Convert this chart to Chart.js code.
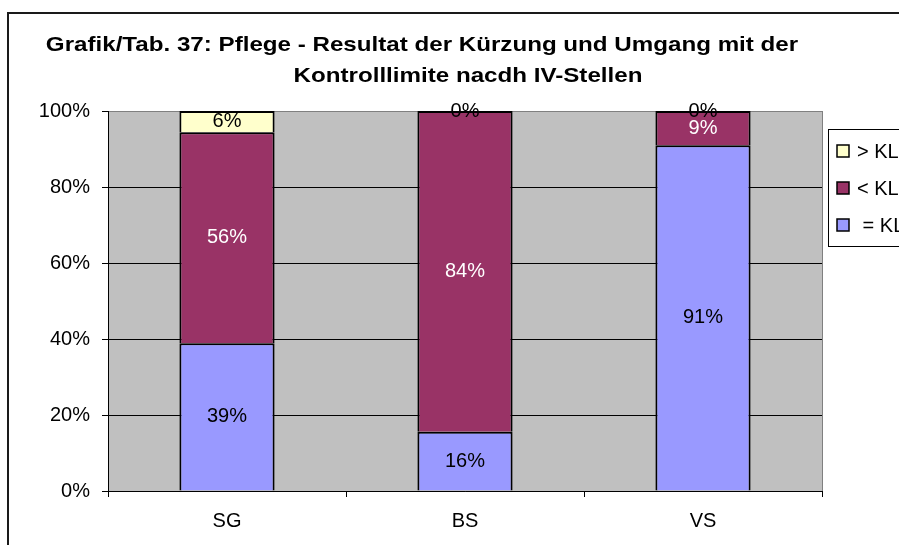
<!DOCTYPE html>
<html lang="de">
<head>
<meta charset="utf-8">
<title>Pflege - Resultat der Kürzung</title>
<script src="https://cdn.jsdelivr.net/npm/chart.js@4/dist/chart.umd.min.js"></script>
<style>
    html, body { margin: 0; padding: 0; background: #fff; overflow: hidden; }
    canvas { display: block; }
</style>
</head>
<body>
<canvas id="kuerzungChart" width="899" height="545"></canvas>
<script>
// IV-Stellen
const stellen = ['SG', 'BS', 'VS'];

// Anteile in Prozent je Stelle
const gleichKL = [38.9, 15.6, 91];
const unterKL = [55.5, 84.4, 9];
const ueberKL = [5.6, 0, 0];

const yTicks = [0, 20, 40, 60, 80, 100];

const titelZeilen = [
    'Grafik/Tab. 37: Pflege - Resultat der Kürzung und Umgang mit der',
    'Kontrolllimite nacdh IV-Stellen'
];

const FONT = "'Liberation Sans', Arial, Helvetica, sans-serif";

Chart.defaults.font.family = FONT;
Chart.defaults.font.size = 20;
Chart.defaults.color = '#000';

/**
 * Grey plot area and outer frame
 */
const plotBackground = {
    id: 'plotBackground',
    beforeDraw(chart) {
        const { ctx, chartArea: a } = chart;
        ctx.save();
        ctx.strokeStyle = '#1a1a1a';
        ctx.lineWidth = 2;
        ctx.strokeRect(8, 13, chart.width + 50, chart.height + 50);
        ctx.fillStyle = '#c0c0c0';
        ctx.fillRect(a.left, a.top, a.right - a.left, a.bottom - a.top);
        ctx.strokeStyle = '#808080';
        ctx.lineWidth = 1;
        ctx.beginPath();
        ctx.moveTo(a.right + 0.5, a.top);
        ctx.lineTo(a.right + 0.5, a.bottom);
        ctx.stroke();
        ctx.restore();
    }
};

/**
 * Wide bold two-line heading above the plot
 */
const wideTitle = {
    id: 'wideTitle',
    afterDraw(chart) {
        const ctx = chart.ctx;
        const cx = (chart.chartArea.left + chart.chartArea.right) / 2 - 43;
        const shift = [0, 46];
        ctx.save();
        ctx.font = 'bold 21px ' + FONT;
        ctx.fillStyle = '#000';
        ctx.textAlign = 'center';
        ctx.textBaseline = 'alphabetic';
        titelZeilen.forEach((zeile, i) => {
            ctx.save();
            ctx.translate(cx + shift[i], 51 + i * 31);
            ctx.scale(1.15, 1);
            ctx.fillText(zeile, 0, 0);
            ctx.restore();
        });
        ctx.restore();
    }
};

/**
 * Percent labels centred in each bar segment
 */
const segmentLabels = {
    id: 'segmentLabels',
    afterDatasetsDraw(chart) {
        const ctx = chart.ctx;
        ctx.save();
        ctx.font = '20px ' + FONT;
        ctx.textAlign = 'center';
        ctx.textBaseline = 'middle';
        chart.data.datasets.forEach((ds, i) => {
            const meta = chart.getDatasetMeta(i);
            meta.data.forEach((bar, j) => {
                const v = ds.data[j];
                ctx.fillStyle = ds.valueColor;
                ctx.fillText(Math.round(v) + '%', bar.x, (bar.y + bar.base) / 2);
            });
        });
        ctx.restore();
    }
};

/**
 * Framed legend on the right, top entry = last dataset
 */
const boxLegend = {
    id: 'boxLegend',
    afterDraw(chart) {
        const { ctx, chartArea: a } = chart;
        const left = a.right + 6;
        const top = a.top + 18;
        ctx.save();
        ctx.strokeStyle = '#000';
        ctx.lineWidth = 1;
        ctx.strokeRect(left + 0.5, top + 0.5, 120, 117);
        ctx.font = '20px ' + FONT;
        ctx.textBaseline = 'middle';
        const sets = chart.data.datasets.slice().reverse();
        sets.forEach((ds, i) => {
            const cy = top + 22 + i * 37;
            ctx.fillStyle = ds.backgroundColor;
            ctx.fillRect(left + 9, cy - 6, 12, 12);
            ctx.lineWidth = 1.5;
            ctx.strokeRect(left + 9, cy - 6, 12, 12);
            ctx.fillStyle = '#000';
            ctx.fillText(ds.label, left + 29, cy + 1);
        });
        ctx.restore();
    }
};

new Chart(document.getElementById('kuerzungChart'), {
    type: 'bar',
    data: {
        labels: stellen,
        datasets: [
            {
                label: ' = KL',
                data: gleichKL,
                backgroundColor: '#9999ff',
                borderColor: '#000',
                borderWidth: 2,
                valueColor: '#000'
            },
            {
                label: '< KL',
                data: unterKL,
                backgroundColor: '#993366',
                borderColor: '#000',
                borderWidth: 2,
                valueColor: '#fff'
            },
            {
                label: '> KL',
                data: ueberKL,
                backgroundColor: '#ffffcc',
                borderColor: '#000',
                borderWidth: 2,
                valueColor: '#000'
            }
        ]
    },
    options: {
        responsive: false,
        animation: false,
        datasets: {
            bar: {
                barPercentage: 0.4,
                categoryPercentage: 1
            }
        },
        layout: {
            padding: { left: 22, right: 77, top: 111, bottom: 0 }
        },
        scales: {
            x: {
                stacked: true,
                grid: {
                    offset: true,
                    drawOnChartArea: false,
                    drawTicks: true,
                    tickLength: 6,
                    color: '#000'
                },
                border: { color: '#000', width: 1 },
                ticks: { padding: 12, font: { size: 20 } },
                afterFit(scale) { scale.height = 54; }
            },
            y: {
                stacked: true,
                min: 0,
                max: 100,
                afterBuildTicks(scale) {
                    scale.ticks = yTicks.map(v => ({ value: v }));
                },
                ticks: {
                    padding: 12,
                    font: { size: 20 },
                    callback: v => v + '%'
                },
                grid: {
                    tickLength: 6,
                    tickColor: '#000',
                    color: c => (c.tick && c.tick.value === 100 ? '#808080' : '#000')
                },
                border: { color: '#000', width: 1 },
                afterFit(scale) { scale.width = 86; }
            }
        },
        plugins: {
            legend: { display: false },
            tooltip: { enabled: false },
            title: { display: false }
        }
    },
    plugins: [plotBackground, wideTitle, segmentLabels, boxLegend]
});
</script>
</body>
</html>
